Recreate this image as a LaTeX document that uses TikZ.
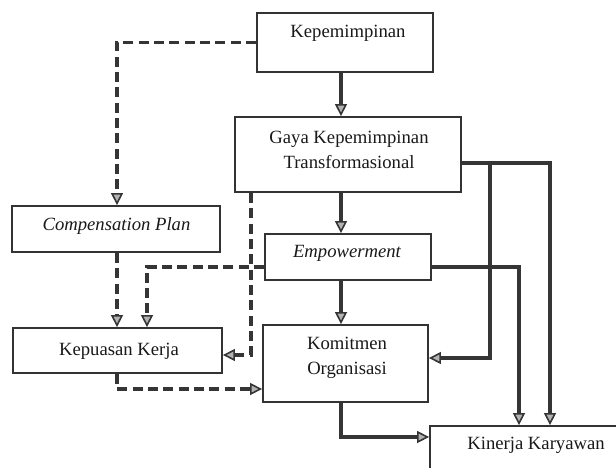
\documentclass[tikz,border=0pt]{standalone}
\usepackage{fontspec}
\setmainfont{Liberation Serif}
\usetikzlibrary{arrows.meta}
\definecolor{ink}{HTML}{353535}
\definecolor{boxline}{HTML}{333333}
\begin{document}
\begin{tikzpicture}[x=0.75pt,y=-0.75pt,
  boxn/.style 2 args={draw=boxline, line width=1.4pt, fill=white, inner sep=0pt, minimum width=#1, minimum height=#2},
  txt/.style={inner sep=0pt, align=center, text=black!90, font=\fontsize{14}{18.5}\selectfont},
  tip/.style={-{Triangle[length=9pt,width=9pt,fill=gray!60,line width=1.2pt]}},
  sol/.style={tip, draw=ink, line width=2.8pt},
  dsh/.style={tip, draw=ink, line width=2.5pt, dash pattern=on 7.5pt off 4pt}]
\useasboundingbox (0,0) rectangle (616,467);
\clip (0,0) rectangle (616,467);
\fill[white] (0,0) rectangle (616,467);
% helper columns and rows
\coordinate (cA) at (341,0);
\coordinate (cL1) at (117,0);
\coordinate (cL2) at (147,0);
\coordinate (cD) at (251,0);
\coordinate (cR1) at (490,0);
\coordinate (cR2) at (519,0);
\coordinate (cR3) at (550,0);
\coordinate (r163) at (0,163);
\coordinate (r267) at (0,267);
\coordinate (r355) at (0,355);
\coordinate (r358) at (0,358);
\coordinate (r389) at (0,389);
\coordinate (r437) at (0,437);
% boxes
\node[boxn={132pt}{44.25pt}] (kep) at (345,42.5) {};
\node[boxn={169.5pt}{56.25pt}] (gaya) at (348,154.5) {};
\node[boxn={156pt}{34.5pt}] (comp) at (116,229) {};
\node[boxn={124.5pt}{34.5pt}] (emp) at (348,257) {};
\node[boxn={156.75pt}{33.75pt}] (kepu) at (117.5,350.5) {};
\node[boxn={123.75pt}{57.75pt}] (kom) at (345.5,363.5) {};
\node[boxn={157.5pt}{36.75pt}] (kin) at (535,450.5) {};
% texts
\node[txt] (kepT) at (348,33) {Kepemimpinan};
\node[txt] (gayaT) at (349,150) {Gaya Kepemimpinan\\Transformasional};
\node[txt] (compT) at (116.5,226) {\itshape Compensation Plan};
\node[txt] (empT) at (347,253) {\itshape Empowerment};
\node[txt] (kepuT) at (119,351) {Kepuasan Kerja};
\node[txt] (komT) at (347,358) {Komitmen\\Organisasi};
\node[txt] (kinT) at (536,445) {Kinerja Karyawan};
% solid connectors
\draw[sol] (kep.south -| cA) -- (gaya.north -| cA);
\draw[sol] (gaya.south -| cA) -- (emp.north -| cA);
\draw[sol] (emp.south -| cA) -- (kom.north -| cA);
\draw[sol] (gaya.east |- r163) -| (cR1 |- r358) -- (kom.east |- r358);
\draw[sol] (gaya.east |- r163) -| (kin.north -| cR3);
\draw[sol] (emp.east |- r267) -| (kin.north -| cR2);
\draw[sol] (kom.south -| cA) |- (kin.west |- r437);
% dashed connectors
\draw[dsh] (kep.west) -| (comp.north -| cL1);
\draw[dsh] (comp.south -| cL1) -- (kepu.north -| cL1);
\draw[dsh] (emp.west |- r267) -| (kepu.north -| cL2);
\draw[dsh] (gaya.south -| cD) |- (kepu.east |- r355);
\draw[dsh] (kepu.south -| cL1) |- (kom.west |- r389);
\end{tikzpicture}
\end{document}
